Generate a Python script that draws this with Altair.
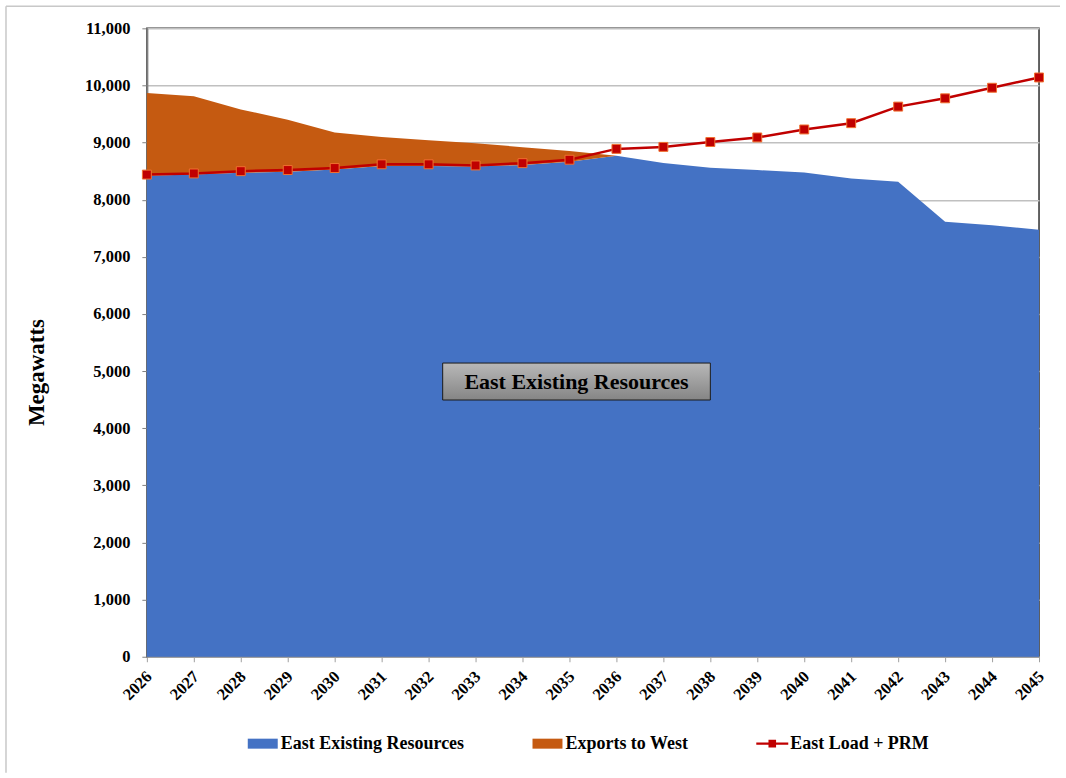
import altair as alt
import pandas as pd

years = [2026, 2027, 2028, 2029, 2030, 2031, 2032, 2033, 2034, 2035,
         2036, 2037, 2038, 2039, 2040, 2041, 2042, 2043, 2044, 2045]
east_existing = [8420, 8440, 8470, 8490, 8530, 8590, 8590, 8580, 8610, 8665,
                 8770, 8645, 8560, 8520, 8475, 8370, 8315, 7615, 7555, 7475]
exports_to_west = [1450, 1370, 1110, 910, 645, 510, 450, 410, 310, 190,
                   0, 0, 0, 0, 0, 0, 0, 0, 0, 0]
east_load_prm = [8440, 8460, 8500, 8520, 8555, 8620, 8620, 8600, 8640, 8700,
                 8890, 8925, 9010, 9090, 9230, 9340, 9630, 9775, 9960, 10140]

series_names = ["East Existing Resources", "Exports to West", "East Load + PRM"]
series_colors = ["#4472C4", "#C55A11", "#C00000"]
y_ticks = [0, 1000, 2000, 3000, 4000, 5000, 6000, 7000, 8000, 9000, 10000, 11000]

box_label = "East Existing Resources"
box_x = [2032.3]
box_x2 = [2038.0]
box_y = [5141]
box_y2 = [4494]

FONT = "Liberation Serif"

df = pd.DataFrame({
    "year": years,
    "east": east_existing,
    "exports": exports_to_west,
    "load": east_load_prm,
})
df["total"] = df["east"] + df["exports"]

x_enc = alt.X("year:Q",
              scale=alt.Scale(domain=[2026, 2045], nice=False, zero=False),
              axis=alt.Axis(values=years, format="d", title=None, grid=False,
                            labelAngle=315, labelAlign="right", labelBaseline="middle",
                            labelPadding=12, labelOffset=2, tickSize=5,
                            tickColor="#a0a0a0",
                            domainColor="#a0a0a0", domainWidth=1.5,
                            labelFont=FONT, labelFontSize=16.5, labelFontWeight="bold",
                            labelColor="#000000", labelOverlap=False))

base = alt.Chart(df)

blue = base.mark_area(color=series_colors[0], opacity=1).encode(
    x=x_enc,
    y=alt.Y("east:Q",
            scale=alt.Scale(domain=[0, 11000], nice=False),
            axis=alt.Axis(values=y_ticks, format=",.0f", title="Megawatts",
                          titleFont=FONT, titleFontSize=23, titleFontWeight="bold",
                          titleColor="#000000", titlePadding=36, titleY=344,
                          labelFont=FONT, labelFontSize=16.5, labelFontWeight="bold",
                          labelColor="#000000", labelPadding=12, tickSize=5,
                          tickColor="#808080", domainColor="#808080", domainWidth=2,
                          gridColor="#c0c0c0", gridWidth=1.5)),
)

orange = base.mark_area(color=series_colors[1], opacity=1).encode(
    x="year:Q", y="total:Q", y2="east:Q")

line = base.mark_line(color=series_colors[2], strokeWidth=2.5).encode(
    x="year:Q", y="load:Q")

pts = base.mark_square(size=80, fill=series_colors[2], stroke="#F07030",
                       strokeWidth=1, opacity=1).encode(x="year:Q", y="load:Q")

box_df = pd.DataFrame({"x": box_x, "x2": box_x2, "y": box_y, "y2": box_y2,
                       "label": [box_label]})
box_df["xm"] = (box_df["x"] + box_df["x2"]) / 2
box_df["ym"] = (box_df["y"] + box_df["y2"]) / 2

box = alt.Chart(box_df).mark_rect(
    fill=alt.Gradient(gradient="linear",
                      stops=[alt.GradientStop(color="#B8B8B8", offset=0),
                             alt.GradientStop(color="#858585", offset=1)],
                      x1=0, x2=0, y1=0, y2=1),
    stroke="#1a1a1a", strokeWidth=1).encode(
    x="x:Q", x2="x2:Q", y="y:Q", y2="y2:Q")

box_text = alt.Chart(box_df).mark_text(
    font=FONT, fontSize=22, fontWeight="bold", color="#000000",
    align="center", baseline="middle").encode(
    x="xm:Q", y="ym:Q", text="label:N")

# legend (drawn from the series names / colors)
leg_df = pd.DataFrame({"series": series_names})
rect_path = "M-1.5,-0.5H1.5V0.5H-1.5Z"
line_path = "M-1.6,-0.12H1.6V0.12H-1.6Z M-0.38,-0.38H0.38V0.38H-0.38Z"
leg_props = dict(title=None, orient="none", legendX=106, legendY=706,
                 direction="horizontal", columns=3, columnPadding=68,
                 symbolSize=400, labelOffset=8, symbolStrokeWidth=0,
                 symbolOpacity=1,
                 labelFont=FONT, labelFontSize=18, labelFontWeight="bold",
                 labelColor="#000000", labelLimit=400, padding=0)
legend_layer = alt.Chart(leg_df).mark_point(filled=True, size=400, opacity=1).encode(
    fill=alt.Fill("series:N",
                  scale=alt.Scale(domain=series_names, range=series_colors),
                  legend=alt.Legend(**leg_props)),
    shape=alt.Shape("series:N",
                    scale=alt.Scale(domain=series_names,
                                    range=[rect_path, rect_path, line_path]),
                    legend=alt.Legend(**leg_props)),
).transform_filter("datum.series == 'none'")

# outer frame of the chart
frame_df = pd.DataFrame({"k": [0]})
frame_v = alt.Chart(frame_df).mark_rule(color="#c8c8c8", strokeWidth=1.5).encode(
    x=alt.value(-141), y=alt.value(-22), y2=alt.value(745))
frame_h = alt.Chart(frame_df).mark_rule(color="#c8c8c8", strokeWidth=1.5).encode(
    x=alt.value(-141), x2=alt.value(914), y=alt.value(-22))

chart = alt.layer(blue, orange, line, pts, box, box_text, legend_layer,
                  frame_v, frame_h).properties(
    width=893, height=629, padding=5, background="#ffffff"
).configure_view(stroke="#303030", strokeWidth=1.5)

chart.save("out.html", embed_options={"renderer": "svg", "actions": False})
